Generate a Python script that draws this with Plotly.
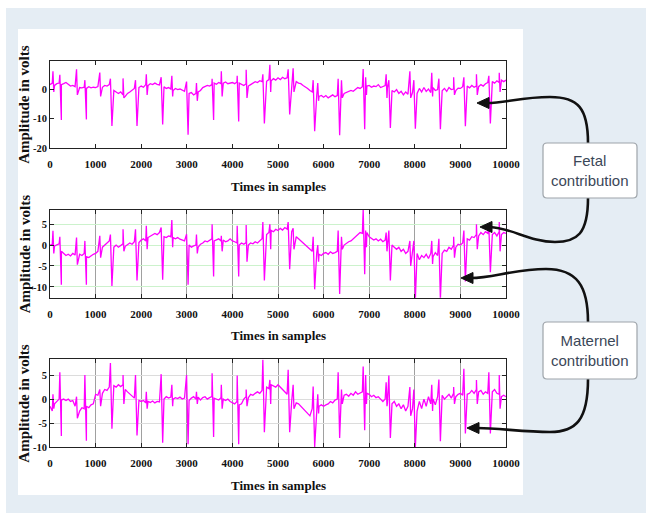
import numpy as np
import plotly.graph_objects as go

W, H = 646, 513

# ---------------- data ----------------
sample_step = 50  # baseline values below are given every 50 samples, 0..10000

base1 = [
    1.5, 2.0, 1.2, 1.8, 2.0, 1.5, 1.8, 2.2, 1.6, 1.0, 1.2, 0.8, 1.0, 0.5, 0.4, 0.6, 0.2, 0.8, 0.4, 0.6,
    0.5, 0.8, 1.0, 0.6, 1.2, 1.0, 1.5, 0.8, -0.5, -1.0, -1.5, -1.0, -2.0, -2.5, -1.5, -1.0, -0.5, 0.2, -0.2, 0.5,
    1.0, 0.6, 1.5, 1.2, 1.8, 1.5, 2.0, 1.6, 1.4, 1.8, 0.8, 0.2, 0.5, 0.0, -0.5, 0.2, -0.2, 0.0, -0.5, -0.8,
    -1.0, -1.5, -1.2, -2.0, -1.5, -1.0, -0.5, 0.5, 0.8, 1.2, 1.0, 1.5, 2.0, 1.6, 2.2, 1.8, 2.0, 2.4, 1.8, 2.0,
    2.2, 1.8, 2.4, 2.0, 1.5, 1.2, 1.8, 1.0, 1.5, 2.0, 2.5, 2.2, 2.8, 2.5, 3.0, 2.6, 3.2, 2.8, 3.5, 3.0,
    3.8, 3.2, 4.0, 3.5, 3.8, 3.2, 2.8, 3.0, 2.5, 2.0, 1.8, 1.2, 0.8, 0.2, -0.5, -1.0, -1.5, -2.0, -2.5, -2.2,
    -2.8, -2.2, -3.0, -2.5, -2.0, -2.6, -2.2, -2.0, -1.8, -1.5, -1.2, -1.0, -0.5, -0.8, 0.0, 0.5, 0.2, 0.8, 0.5, 1.0,
    1.2, 0.6, 1.0, 0.8, 1.5, 0.5, 1.0, 1.2, 0.4, 0.8, -0.5, -1.0, -0.2, -1.5, -0.8, -2.0, -1.0, -1.8, -0.5, -1.2,
    -0.5, -1.5, 0.2, -1.0, 0.5, -0.8, 0.0, -1.2, 0.5, -0.5, -0.2, 0.8, -0.6, 0.2, -0.8, 0.5, -0.2, 0.0, -0.5, 0.3,
    0.2, 0.8, 0.5, 1.0, 0.4, 1.2, 0.6, 1.0, 0.8, 1.5, 1.0, 1.8, 2.2, 1.5, 2.5, 2.0, 2.8, 2.2, 3.0, 2.5,
    3.0,
]

base2 = [
    0.0, 0.2, -0.2, 0.0, 0.3, -1.5, -2.0, -2.5, -2.2, -2.6, -2.0, -2.4, -2.8, -2.2, -2.5, -2.0, -2.8, -3.0, -2.5, -2.2,
    -2.0, -1.5, -1.0, -0.5, 0.0, 0.5, 1.0, 0.5, -0.5, 0.0, -0.5, -0.2, 0.3, -0.3, 0.0, 0.5, 0.2, 0.8, 1.0, 0.6,
    1.2, 1.5, 1.0, 1.8, 2.2, 2.5, 2.8, 2.5, 3.0, 2.8, 2.0, 1.8, 2.2, 2.0, 1.8, 1.5, 1.8, 1.4, 1.2, 1.0,
    0.5, 0.0, -0.5, -0.2, 0.0, -0.5, 0.2, 0.5, 1.0, 0.8, 1.2, 1.5, 1.0, 1.2, 1.5, 1.0, 1.2, 0.8, 1.0, 1.5,
    1.0, 0.8, 0.5, 0.0, 0.5, 0.2, 0.6, 0.0, 0.5, 0.3, 0.8, 0.5, 1.0, 1.5, 2.0, 2.5, 3.0, 3.5, 3.2, 3.8,
    3.5, 4.0, 3.6, 4.2, 3.8, 3.0, 3.2, 2.5, 2.0, 1.5, 1.0, 0.5, 0.0, -0.5, -1.0, -1.5, -2.0, -1.8, -2.2, -2.5,
    -2.0, -1.8, -2.2, -1.6, -2.0, -1.8, -1.5, -1.0, -0.5, 0.0, 0.5, 0.8, 1.0, 1.5, 2.0, 2.5, 3.0, 2.8, 3.5, 3.0,
    2.0, 1.5, 1.2, 1.5, 1.0, 1.4, 0.8, 1.2, 0.5, 0.8, 0.0, -0.5, -1.0, -0.5, -1.5, -1.0, -2.0, -1.5, -2.5, -2.0,
    -3.0, -2.0, -3.5, -2.5, -3.0, -2.2, -3.2, -2.0, -2.8, -1.8, -2.5, -1.5, -2.0, -1.2, -1.5, -0.5, -1.0, 0.0, -0.5, 0.2,
    0.0, 0.5, 1.0, 1.5, 1.2, 2.0, 1.8, 2.5, 2.2, 3.0, 2.5, 3.2, 2.8, 3.5, 2.5, 3.0, 2.2, 3.2, 2.5, 3.0,
    2.8,
]

base3 = [
    -1.5, -2.5, -1.0, -0.5, 0.0, -0.2, 0.0, -0.3, 0.0, -0.5, -0.3, -1.5, -2.0, -2.5, -1.8, -2.0, -1.5, -1.8, -1.2, -1.0,
    1.0, 0.8, 1.5, 1.2, 2.0, 1.8, 2.5, 2.2, 2.8, 2.5, 3.0, 2.6, 3.0, 2.0, 1.5, 1.0, 0.5, 0.2, 0.0, -0.3,
    -0.5, -0.3, -0.8, -0.5, -0.7, -0.4, -0.8, -0.5, -0.6, -0.3, 0.0, 0.5, 0.2, 0.4, 0.0, 0.3, 0.1, 0.4, 0.0, 0.2,
    0.0, -0.3, 0.2, 0.5, 0.0, 0.4, -0.2, 0.3, 0.5, 0.0, 0.3, 0.5, 0.2, 0.0, -0.2, 0.3, 0.0, -0.3, 0.0, -0.5,
    -0.8, -1.0, -0.5, -1.2, -1.0, 0.0, 0.5, 0.3, 1.0, 0.8, 1.2, 1.5, 1.2, 1.8, 2.0, 2.5, 2.2, 3.0, 2.8, 2.5,
    3.0, 2.5, 2.0, 1.5, 1.0, 0.0, -0.5, -0.3, -0.8, -1.0, -1.5, -2.0, -2.5, -3.0, -3.5, -2.0, -1.5, -1.8, -1.5, -1.2,
    -1.5, -1.2, -1.0, -0.5, -0.8, -0.2, 0.0, 0.5, 0.3, 0.8, 1.0, 0.6, 1.2, 0.8, 1.5, 1.0, 1.2, 1.5, 1.0, 1.2,
    1.0, 0.5, 0.8, 0.3, 0.5, 0.0, -0.5, 0.0, -0.8, -0.3, -1.0, -0.5, -1.5, -1.0, -2.0, -1.2, -2.5, -1.5, -3.0, -2.0,
    -1.5, -2.5, -0.5, -2.0, 0.0, -1.5, 0.5, -1.0, 0.0, -1.2, 0.5, -0.5, 0.8, 0.0, 0.5, 1.0, 0.2, 1.2, 0.5, 1.0,
    1.2, 0.8, 1.5, 1.0, 1.2, 1.8, 1.2, 2.0, 1.5, 1.8, 1.0, 1.5, 1.2, 1.0, 1.5, 2.0, 1.2, 1.0, 0.5, 0.8,
    0.5,
]

# maternal QRS complexes (sample index of R wave) and peak values per panel
mat_pos = [241, 790, 1350, 1900, 2463, 3020, 3580, 4130, 4693, 5248, 5796, 6344, 6893, 7456, 8004, 8553, 9101, 9649]
mat_up1 = [4.8, 3.0, 3.5, 3.0, 4.0, 2.5, 3.5, 4.5, 5.0, 6.7, 3.0, 3.5, 6.8, 3.0, 3.0, 3.5, 4.0, 4.5]
mat_dn1 = [-10.5, -10.3, -12.5, -12.5, -12.0, -15.5, -10.5, -11.0, -11.7, -8.6, -14.3, -15.7, -13.6, -13.2, -13.5, -13.6, -12.6, -11.7]
mat_up2 = [2.0, 1.0, 2.5, 3.8, 4.2, 2.6, 5.0, 4.6, 5.5, 5.5, 2.0, 3.5, 8.5, 3.5, 1.0, 1.5, 3.5, 4.5]
mat_dn2 = [-9.5, -9.5, -9.8, -8.5, -8.3, -9.5, -7.5, -7.5, -8.5, -5.8, -10.6, -11.7, -7.0, -8.5, -13.0, -13.0, -8.7, -6.5]
mat_up3 = [5.6, 5.0, 7.5, 5.0, 5.2, 5.0, 5.4, 4.9, 8.2, 6.1, 2.6, 5.6, 6.8, 4.9, 2.0, 4.1, 6.3, 5.6]
mat_dn3 = [-7.7, -8.7, -6.2, -7.6, -9.1, -9.4, -7.9, -9.4, -6.9, -6.9, -10.0, -8.1, -6.5, -8.1, -10.0, -8.8, -7.2, -7.2]

# fetal QRS complexes
fet_pos = [73, 590, 1100, 1610, 2120, 2680, 3220, 3765, 4310, 4830, 5340, 5880, 6400, 6930, 7380, 7900, 8380, 8860, 9360, 9860]
fet_up1 = [6.0, 6.7, 5.6, 3.6, 5.0, 4.5, 2.0, 6.0, 6.5, 8.2, 7.0, 2.0, 3.0, 4.0, 5.0, 6.0, 5.5, 4.0, 5.0, 5.5]
fet_dn1 = [-1.0, -2.0, -2.5, -3.0, -2.0, -2.5, -4.0, -2.5, -3.0, -1.0, -1.0, -4.0, -3.0, -2.0, -3.0, -3.0, -2.5, -2.0, -2.0, -1.0]
fet_up2 = [3.4, 1.8, 2.2, 3.8, 4.6, 6.0, 2.5, 2.2, 4.8, 5.0, 4.0, 0.0, 2.0, 3.5, 3.0, 1.0, 1.0, 2.0, 5.0, 5.5]
fet_dn2 = [-2.0, -4.7, -3.0, -1.5, -1.0, -0.5, -2.0, -1.5, -4.0, -1.0, -1.0, -4.0, -1.0, -0.5, -1.5, -5.0, -4.5, -3.0, -1.0, -1.5]
fet_up3 = [1.0, 0.5, 2.0, 5.0, 1.5, 3.0, 1.5, 3.0, 2.0, 4.0, 3.0, 1.0, 2.0, 5.0, 3.5, 2.5, 3.0, 2.5, 4.0, 5.0]
fet_dn3 = [-2.0, -4.0, -1.5, -1.0, -2.0, -1.5, -1.0, -2.0, -1.5, -1.0, -2.0, -3.0, -1.0, -1.0, -1.5, -3.5, -2.5, -1.0, -1.0, -2.0]

x_ticks = [0, 1000, 2000, 3000, 4000, 5000, 6000, 7000, 8000, 9000, 10000]
x_tick_labels = ["0", "1000", "2000", "3000", "4000", "5000", "6000", "7000", "8000", "9000", "10000"]
y_ticks1 = [-20, -10, 0]
y_ticks23 = [-10, -5, 0, 5]
x_title = "Times in samples"
y_title = "Amplitude in volts"
box_texts = ["Fetal<br>contribution", "Maternel<br>contribution"]

# ---------------- build signals ----------------
def build(base, mpos, mup, mdn, fpos, fup, fdn):
    grid = np.arange(len(base)) * sample_step
    wins = [(r - 25, r + 8) for r in mpos] + [(f - 8, f + 10) for f in fpos]
    pts = [(int(g), v) for g, v in zip(grid, base)
           if not any(a <= g <= b for a, b in wins)]
    for r, u, d in zip(mpos, mup, mdn):
        pts += [(r - 25, u), (r + 8, d)]
    for f, u, d in zip(fpos, fup, fdn):
        pts += [(f - 8, u), (f + 10, d)]
    pts.sort()
    return [p[0] for p in pts], [p[1] for p in pts]

sig1 = build(base1, mat_pos, mat_up1, mat_dn1, fet_pos, fet_up1, fet_dn1)
sig2 = build(base2, mat_pos, mat_up2, mat_dn2, fet_pos, fet_up2, fet_dn2)
sig3 = build(base3, mat_pos, mat_up3, mat_dn3, fet_pos, fet_up3, fet_dn3)

# ---------------- figure ----------------
def px(x):
    return x / W

def py(y):
    return 1 - y / H

MAG = "#ff00ff"
fig = go.Figure()
for i, (xs, ys) in enumerate([sig1, sig2, sig3], start=1):
    fig.add_trace(go.Scatter(x=xs, y=ys, mode="lines",
                             line=dict(color=MAG, width=1.3),
                             xaxis="x" if i == 1 else f"x{i}",
                             yaxis="y" if i == 1 else f"y{i}",
                             showlegend=False, hoverinfo="skip"))

panels = [(60.7, 148.0), (210.0, 297.7), (359.3, 447.0)]
yranges = [[-20, 9.6], [-12.6, 8.4], [-10, 8.3]]
yticks = [y_ticks1, y_ticks23, y_ticks23]
hgrid = [None, "#ccf2cc", "#dcdcdc"]
vgrid = [None, "#a0a0a0", "#a0a0a0"]
XL, XR = 50, 506

xtickfont = dict(family="Liberation Serif", size=11, color="#111", weight="bold")
ytickfont = dict(family="Liberation Serif", size=10.5, color="#111", weight="bold")
layout = dict(
    width=W, height=H, margin=dict(l=0, r=0, t=0, b=0),
    paper_bgcolor="white", plot_bgcolor="white", template="none",
    showlegend=False,
)
for i, ((top, bot), yr, yt, hg, vg) in enumerate(zip(panels, yranges, yticks, hgrid, vgrid), start=1):
    xa = "xaxis" if i == 1 else f"xaxis{i}"
    ya = "yaxis" if i == 1 else f"yaxis{i}"
    layout[xa] = dict(
        domain=[px(XL), px(XR)], range=[0, 10000],
        tickmode="array", tickvals=x_ticks, ticktext=x_tick_labels,
        anchor="y" if i == 1 else f"y{i}",
        ticks="inside", ticklen=4, tickcolor="#222", tickwidth=1,
        showline=True, linecolor="#222", linewidth=1, mirror="ticks",
        showgrid=vg is not None, gridcolor=vg or "white", gridwidth=1,
        zeroline=False, automargin=False, tickfont=xtickfont,
        ticklabelstandoff=6, fixedrange=True,
    )
    layout[ya] = dict(
        domain=[py(bot), py(top)], range=yr,
        tickmode="array", tickvals=yt, ticktext=[str(v) for v in yt],
        anchor="x" if i == 1 else f"x{i}",
        ticks="inside", ticklen=4, tickcolor="#222", tickwidth=1,
        showline=True, linecolor="#222", linewidth=1, mirror="ticks",
        showgrid=hg is not None, gridcolor=hg or "white", gridwidth=1,
        zeroline=False, automargin=False, tickfont=ytickfont,
        ticklabelstandoff=0, fixedrange=True,
    )
fig.update_layout(**layout)

shapes = []
# background panels
shapes.append(dict(type="rect", xref="paper", yref="paper", layer="below",
                   x0=px(6), x1=px(W), y0=py(H), y1=py(8),
                   fillcolor="#e5edf4", line=dict(width=0)))
shapes.append(dict(type="rect", xref="paper", yref="paper", layer="below",
                   x0=px(18), x1=px(523), y0=py(495), y1=py(29),
                   fillcolor="white", line=dict(width=0)))

def P(x, y):
    return f"{px(x):.5f},{py(y):.5f}"

def rounded(x0, y0, x1, y1, r=4):
    return (f"M {P(x0 + r, y0)} L {P(x1 - r, y0)} Q {P(x1, y0)} {P(x1, y0 + r)} "
            f"L {P(x1, y1 - r)} Q {P(x1, y1)} {P(x1 - r, y1)} "
            f"L {P(x0 + r, y1)} Q {P(x0, y1)} {P(x0, y1 - r)} "
            f"L {P(x0, y0 + r)} Q {P(x0, y0)} {P(x0 + r, y0)} Z")

# curved arrows: (path points) and arrow tip
arrows = [
    ([(588, 143), (588, 108), (578, 97), (550, 97), (522, 97), (505, 103), (487, 103)], (477, 103)),
    ([(588, 198), (588, 234), (577, 242), (555, 242), (530, 242), (512, 228), (490, 227)], (480, 227)),
    ([(588, 322), (588, 286), (577, 269), (546, 269), (515, 269), (492, 278), (471, 278)], (461, 278)),
    ([(588, 379), (588, 420), (576, 432), (550, 432), (524, 432), (498, 428), (477, 428)], (467, 428)),
]
for pts, tip in arrows:
    p = pts
    path = (f"M {P(*p[0])} C {P(*p[1])} {P(*p[2])} {P(*p[3])} "
            f"C {P(*p[4])} {P(*p[5])} {P(*p[6])}")
    shapes.append(dict(type="path", xref="paper", yref="paper", path=path,
                       line=dict(color="#111", width=2.6)))
    tx, ty = tip
    head = f"M {P(tx, ty)} L {P(tx + 12, ty - 5.5)} L {P(tx + 12, ty + 5.5)} Z"
    shapes.append(dict(type="path", xref="paper", yref="paper", path=head,
                       fillcolor="#111", line=dict(color="#111", width=1)))

boxes = [(543, 143, 637, 198), (543, 322, 637, 379)]
for (x0, y0, x1, y1) in boxes:
    shapes.append(dict(type="path", xref="paper", yref="paper",
                       path=rounded(x0, y0, x1, y1),
                       fillcolor="white", line=dict(color="#9ea4aa", width=1.2)))

annotations = []
for (top, bot) in panels:
    annotations.append(dict(xref="paper", yref="paper", x=px((XL + XR) / 2), y=py(bot + 38),
                            text=f"<b>{x_title}</b>", showarrow=False,
                            font=dict(family="Liberation Serif", size=13, color="#111"),
                            xanchor="center", yanchor="middle"))
    annotations.append(dict(xref="paper", yref="paper", x=px(24.5), y=py((top + bot) / 2),
                            text=f"<b>{y_title}</b>", showarrow=False, textangle=-90,
                            font=dict(family="Liberation Serif", size=15, color="#111"),
                            xanchor="center", yanchor="middle"))
for (x0, y0, x1, y1), t in zip(boxes, box_texts):
    annotations.append(dict(xref="paper", yref="paper", x=px((x0 + x1) / 2), y=py((y0 + y1) / 2),
                            text=t, showarrow=False,
                            font=dict(family="Liberation Sans", size=15, color="#3b4758"),
                            xanchor="center", yanchor="middle"))

fig.update_layout(shapes=shapes, annotations=annotations)
fig.write_html("out.html", config={"displayModeBar": False, "staticPlot": True},
               post_script="document.body.style.margin='0px';")
